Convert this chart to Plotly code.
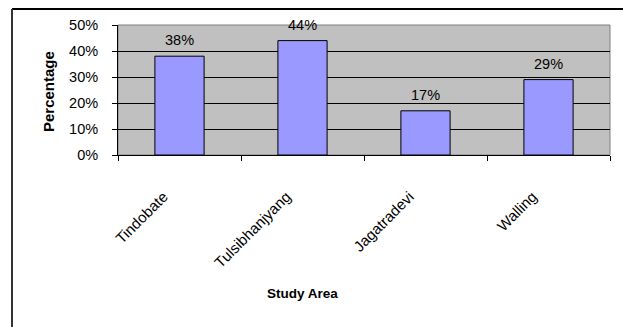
import plotly.graph_objects as go

categories = ["Tindobate", "Tulsibhanjyang", "Jagatradevi", "Walling"]
values = [38, 44, 17, 29]
y_ticks = [0, 10, 20, 30, 40, 50]
y_tick_labels = ["0%", "10%", "20%", "30%", "40%", "50%"]
value_labels = [f"{v}%" for v in values]

font = "Liberation Sans, Arial, sans-serif"

fig = go.Figure()
fig.add_trace(go.Bar(
    x=categories, y=values, width=0.4,
    marker=dict(color="#9999FF", line=dict(color="black", width=1)),
    hoverinfo="skip",
))

for c, v, t in zip(categories, values, value_labels):
    fig.add_annotation(x=c, y=v, text=t, showarrow=False, yanchor="bottom",
                       yshift=6, font=dict(family=font, size=14.5, color="black"))

# axis titles
fig.add_annotation(xref="paper", yref="paper", x=(302 - 118) / 492, y=(155 - 293) / 130,
                   text="<b>Study Area</b>", showarrow=False, xanchor="center", yanchor="middle",
                   font=dict(family=font, size=13.5, color="black"))
fig.add_annotation(xref="paper", yref="paper", x=(48 - 118) / 492, y=(155 - 92) / 130,
                   text="<b>Percentage</b>", showarrow=False, textangle=-90,
                   xanchor="center", yanchor="middle",
                   font=dict(family=font, size=15, color="black"))

fig.update_layout(
    width=623, height=327,
    margin=dict(l=118, r=13, t=25, b=172),
    paper_bgcolor="white", plot_bgcolor="#C0C0C0",
    showlegend=False, bargap=0.6,
    font=dict(family=font, size=14, color="black"),
    xaxis=dict(
        type="category", tickson="boundaries", ticks="outside", ticklen=5,
        tickcolor="black", tickangle=-45, showline=True, linecolor="black",
        linewidth=1, showgrid=False, tickfont=dict(size=15),
        ticklabelshift=-16, ticklabelstandoff=26,
    ),
    yaxis=dict(
        range=[0, 50], tickvals=y_ticks, ticktext=y_tick_labels,
        ticks="outside", ticklen=5, tickcolor="black", showline=True,
        linecolor="black", linewidth=1, showgrid=True, gridcolor="black",
        gridwidth=1, zeroline=False, tickfont=dict(size=14.5), ticklabelstandoff=11,
    ),
    shapes=[
        dict(type="rect", xref="paper", yref="paper", x0=0, x1=1, y0=0, y1=1,
             line=dict(color="#808080", width=1), layer="below"),
        dict(type="line", xref="paper", yref="paper",
             x0=-106/492, x1=1.05, y0=(155-9)/130, y1=(155-9)/130,
             line=dict(color="black", width=2)),
        dict(type="line", xref="paper", yref="paper",
             x0=-106/492, x1=-106/492, y0=(155-9)/130, y1=-1.5,
             line=dict(color="#333333", width=2)),
    ],
)

fig.write_html("out.html")
